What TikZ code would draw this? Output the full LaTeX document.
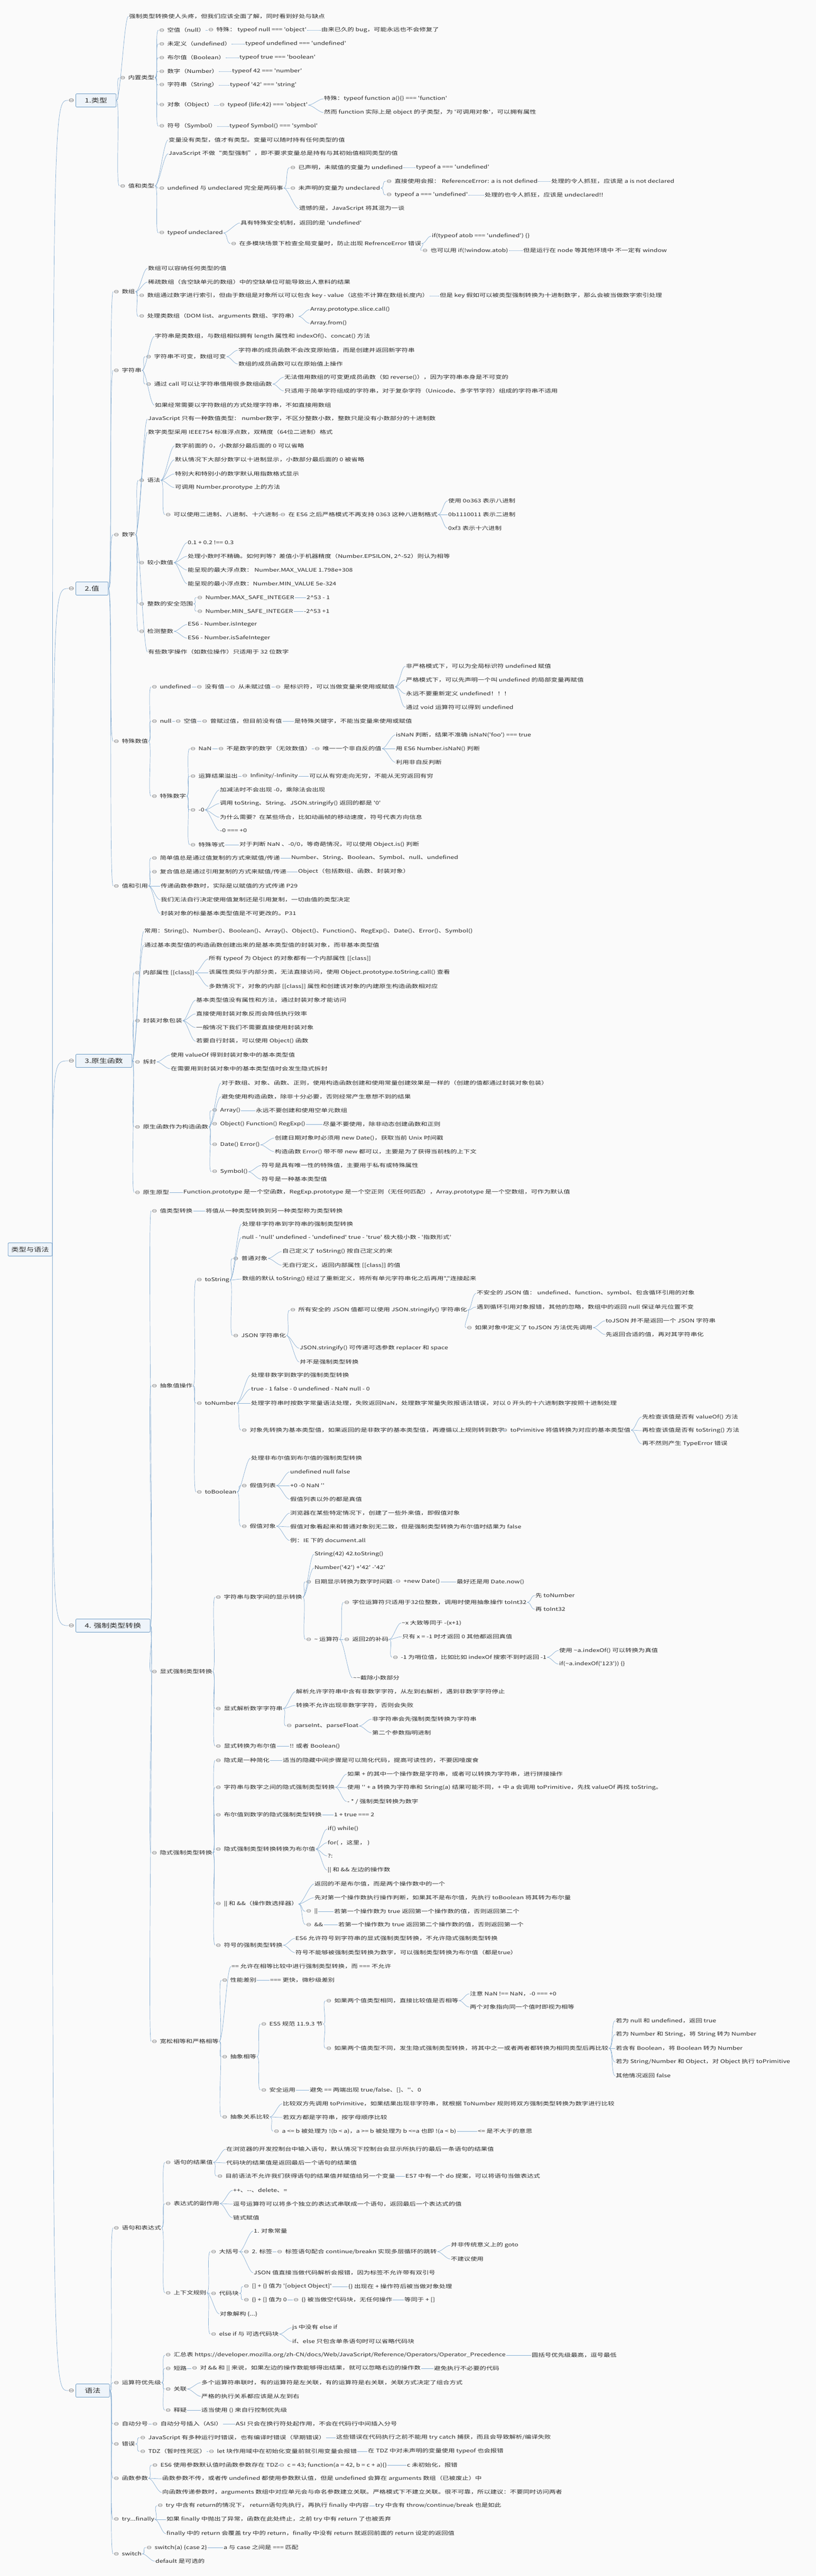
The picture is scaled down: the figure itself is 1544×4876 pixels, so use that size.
\documentclass[tikz,border=0pt]{standalone}
\usepackage{fontspec}
\usepackage{xcolor}
\newfontfamily\zh[FakeStretch=1.3]{Noto Sans CJK SC}
\newfontfamily\symf[FakeStretch=1.3]{DejaVu Sans}
\definecolor{bgc}{HTML}{FAFAFA}
\definecolor{linkc}{HTML}{8AB0D4}
\definecolor{boxc}{HTML}{6E9CC6}
\definecolor{boxfill}{HTML}{EEF4FA}
\definecolor{textc}{HTML}{2B2B2B}
\definecolor{knobc}{HTML}{7A7A7A}
\newcommand\knob{{\color{knobc}\symf ⊖}\hspace{5pt}}
\tikzset{
  leaf/.style={anchor=west,inner xsep=1pt,inner ysep=2pt,text=textc,font=\zh\fontsize{9.5}{11}\selectfont},
  fold/.style={leaf,execute at begin node={\knob}},
  topic/.style={anchor=west,draw=boxc,fill=boxfill,line width=0.8pt,rounded corners=2pt,minimum height=25pt,inner xsep=17pt,inner ysep=0pt,text=textc,font=\zh\fontsize{11.5}{13}\selectfont},
  rootbox/.style={topic,anchor=center,inner xsep=6pt,font=\zh\fontsize{11}{13}\selectfont},
  knobbox/.style={inner sep=0pt,text=knobc,font=\symf\fontsize{10.5}{12}\selectfont},
  link/.style={draw=linkc,line width=0.7pt,to path={.. controls +(8,0) and +(-8,0) .. (\tikztotarget)}}
}
\begin{document}
\begin{tikzpicture}[x=1pt,y=-1pt]
\fill[bgc] (0,0) rectangle (1544,4876);
\useasboundingbox (0,0) rectangle (1544,4876);
%------------------------------
% root and the five topics
%______________________________
\node[rootbox] (root) at (57,2365) {类型与语法};
\node[knobbox] (k1) at (135,190) {⊖};
\node[knobbox] (k2) at (135,1114) {⊖};
\node[knobbox] (k3) at (135,2008) {⊖};
\node[knobbox] (k4) at (135,3077) {⊖};
\node[knobbox] (k5) at (135,4525) {⊖};
\node[topic] (s1) at (143,190) {1.类型};
\node[topic] (s2) at (143,1114) {2.值};
\node[topic] (s3) at (143,2008) {3.原生函数};
\node[topic] (s4) at (143,3077) {4. 强制类型转换};
\node[topic] (s5) at (143,4525) {语法};
\foreach \k in {k1,k2,k3,k4,k5}
  \draw[draw=linkc,line width=0.7pt] (root.east) .. controls (root.east |- \k.west) .. (\k.west);
%------------------------------
% 1.类型
%______________________________
\node[leaf] (a1) at (243,31) {强制类型转换使人头疼，但我们应该全面了解，同时看到好处与缺点};
\node[fold] (a2) at (226,147) {内置类型};
\node[fold] (a21) at (300,57) {空值（null）};
\node[fold] (a211) at (393,57) {特殊： typeof null === 'object'};
\node[leaf] (a2111) at (607,57) {由来已久的 bug，可能永远也不会修复了};
\node[fold] (a22) at (300,83) {未定义（undefined）};
\node[leaf] (a221) at (463,83) {typeof undefined === 'undefined'};
\node[fold] (a23) at (300,109) {布尔值（Boolean）};
\node[leaf] (a231) at (452,109) {typeof true === 'boolean'};
\node[fold] (a24) at (300,135) {数字（Number）};
\node[leaf] (a241) at (438,135) {typeof 42 === 'number'};
\node[fold] (a25) at (300,161) {字符串（String）};
\node[leaf] (a251) at (434,161) {typeof '42' === 'string'};
\node[fold] (a26) at (300,199) {对象（Object）};
\node[fold] (a261) at (414,199) {typeof \{life:42\} === 'object'};
\node[leaf] (a2611) at (612,187) {特殊：typeof function a()\{\} === 'function'};
\node[leaf] (a2612) at (612,213) {然而 function 实际上是 object 的子类型，为 '可调用对象'，可以拥有属性};
\node[fold] (a27) at (300,239) {符号（Symbol）};
\node[leaf] (a271) at (433,239) {typeof Symbol() === 'symbol'};
\node[fold] (a3) at (226,352) {值和类型};
\node[leaf] (a31) at (318,265) {变量没有类型，值才有类型。变量可以随时持有任何类型的值};
\node[leaf] (a32) at (318,291) {JavaScript 不做“类型强制”，即不要求变量总是持有与其初始值相同类型的值};
\node[fold] (a33) at (300,356) {undefined 与 undeclared 完全是两码事};
\node[fold] (a331) at (548,317) {已声明，未赋值的变量为 undefined};
\node[leaf] (a3311) at (786,317) {typeof a === 'undefined'};
\node[fold] (a332) at (548,356) {未声明的变量为 undeclared};
\node[fold] (a3321) at (730,343) {直接使用会报： ReferenceError: a is not defined};
\node[leaf] (a33211) at (1042,343) {处理的令人抓狂，应该是 a is not declared};
\node[fold] (a3322) at (730,369) {typeof a === 'undefined'};
\node[leaf] (a33221) at (916,369) {处理的也令人抓狂，应该是 undeclared!!};
\node[leaf] (a333) at (565,395) {遗憾的是，JavaScript 将其混为一谈};
\node[fold] (a34) at (300,441) {typeof undeclared};
\node[leaf] (a341) at (454,422) {具有特殊安全机制，返回的是 'undefined'};
\node[fold] (a342) at (436,461) {在多模块场景下检查全局变量时，防止出现 RefrenceError 错误};
\node[leaf] (a3421) at (816,447) {if(typeof atob === 'undefined') \{\}};
\node[fold] (a3422) at (798,474) {也可以用 if(!window.atob)};
\node[leaf] (a34221) at (989,474) {但是运行在 node 等其他环境中 不一定有 window};
\foreach \p/\c in {s1/a1,s1/a2,s1/a3,a2/a21,a2/a22,a2/a23,a2/a24,a2/a25,a2/a26,a2/a27,a21/a211,a211/a2111,a22/a221,a23/a231,a24/a241,a25/a251,a26/a261,a261/a2611,a261/a2612,a27/a271,a3/a31,a3/a32,a3/a33,a3/a34,a33/a331,a331/a3311,a33/a332,a332/a3321,a3321/a33211,a332/a3322,a3322/a33221,a33/a333,a34/a341,a34/a342,a342/a3421,a342/a3422,a3422/a34221}
  \draw[link] (\p.east) to (\c.west);
%------------------------------
% 2.值
%______________________________
\node[fold] (b1) at (214,552) {数组};
\node[leaf] (b11) at (279,508) {数组可以容纳任何类型的值};
\node[leaf] (b12) at (279,534) {稀疏数组（含空缺单元的数组）中的空缺单位可能导致出人意料的结果};
\node[fold] (b13) at (262,560) {数组通过数字进行索引，但由于数组是对象所以可以包含 key - value（这些不计算在数组长度内）};
\node[leaf] (b131) at (831,560) {但是 key 假如可以被类型强制转换为十进制数字，那么会被当做数字索引处理};
\node[fold] (b14) at (262,599) {处理类数组（DOM list、arguments 数组、字符串）};
\node[leaf] (b141) at (586,586) {Array.prototype.slice.call()};
\node[leaf] (b142) at (586,612) {Array.from()};
\node[fold] (b2) at (214,701) {字符串};
\node[leaf] (b21) at (292,637) {字符串是类数组，与数组相似拥有 length 属性和 indexOf()、concat() 方法};
\node[fold] (b22) at (275,675) {字符串不可变，数组可变};
\node[leaf] (b221) at (450,663) {字符串的成员函数不会改变原始值，而是创建并返回新字符串};
\node[leaf] (b222) at (450,689) {数组的成员函数可以在原始值上操作};
\node[fold] (b23) at (275,727) {通过 call 可以让字符串借用很多数组函数};
\node[leaf] (b231) at (537,714) {无法借用数组的可变更成员函数（如 reverse()），因为字符串本身是不可变的};
\node[leaf] (b232) at (537,740) {只适用于简单字符组成的字符串，对于复杂字符（Unicode、多字节字符）组成的字符串不适用};
\node[leaf] (b24) at (292,767) {如果经常需要以字符数组的方式处理字符串，不如直接用数组};
\node[fold] (b3) at (214,1012) {数字};
\node[leaf] (b31) at (279,793) {JavaScript 只有一种数值类型： number数字，不区分整数小数，整数只是没有小数部分的十进制数};
\node[leaf] (b32) at (279,818) {数字类型采用 IEEE754 标准浮点数，双精度（64位二进制）格式};
\node[fold] (b33) at (262,909) {语法};
\node[leaf] (b331) at (330,844) {数字前面的 0，小数部分最后面的 0 可以省略};
\node[leaf] (b332) at (330,870) {默认情况下大部分数字以十进制显示，小数部分最后面的 0 被省略};
\node[leaf] (b333) at (330,897) {特别大和特别小的数字默认用指数格式显示};
\node[leaf] (b334) at (330,923) {可调用 Number.prorotype 上的方法};
\node[fold] (b335) at (312,974) {可以使用二进制、八进制、十六进制};
\node[fold] (b3351) at (529,974) {在 ES6 之后严格模式不再支持 0363 这种八进制格式};
\node[leaf] (b33511) at (847,948) {使用 0o363 表示八进制};
\node[leaf] (b33512) at (847,974) {0b1110011 表示二进制};
\node[leaf] (b33513) at (847,1000) {0xf3 表示十六进制};
\node[fold] (b34) at (262,1065) {较小数值};
\node[leaf] (b341) at (354,1027) {0.1 + 0.2 !== 0.3};
\node[leaf] (b342) at (354,1053) {处理小数时不精确。如何判等？差值小于机器精度（Number.EPSILON, 2\textasciicircum-52）则认为相等};
\node[leaf] (b343) at (354,1079) {能呈现的最大浮点数：  Number.MAX\_VALUE 1.798e+308};
\node[leaf] (b344) at (354,1105) {能呈现的最小浮点数：Number.MIN\_VALUE 5e-324};
\node[fold] (b35) at (262,1143) {整数的安全范围};
\node[fold] (b351) at (372,1131) {Number.MAX\_SAFE\_INTEGER};
\node[leaf] (b3511) at (579,1131) {2\textasciicircum 53 - 1};
\node[fold] (b352) at (372,1157) {Number.MIN\_SAFE\_INTEGER};
\node[leaf] (b3521) at (574,1157) {-2\textasciicircum 53 +1};
\node[fold] (b36) at (262,1195) {检测整数};
\node[leaf] (b361) at (354,1182) {ES6 - Number.isInteger};
\node[leaf] (b362) at (354,1208) {ES6 - Number.isSafeInteger};
\node[leaf] (b37) at (279,1234) {有些数字操作（如数位操作）只适用于 32 位数字};
\node[fold] (b4) at (214,1403) {特殊数值};
\node[fold] (b41) at (286,1300) {undefined};
\node[fold] (b411) at (371,1300) {没有值};
\node[fold] (b4111) at (434,1300) {从未赋过值};
\node[fold] (b41111) at (520,1300) {是标识符，可以当做变量来使用或赋值};
\node[leaf] (b4a) at (767,1261) {非严格模式下，可以为全局标识符 undefined 赋值};
\node[leaf] (b4b) at (767,1287) {严格模式下，可以先声明一个叫 undefined 的局部变量再赋值};
\node[leaf] (b4c) at (767,1313) {永远不要重新定义 undefined！！！};
\node[leaf] (b4d) at (767,1339) {通过 void 运算符可以得到 undefined};
\node[fold] (b42) at (286,1365) {null};
\node[fold] (b421) at (331,1365) {空值};
\node[fold] (b4211) at (381,1365) {曾赋过值，但目前没有值};
\node[leaf] (b42111) at (556,1365) {是特殊关键字，不能当变量来使用或赋值};
\node[fold] (b43) at (286,1507) {特殊数字};
\node[fold] (b431) at (359,1417) {NaN};
\node[fold] (b4311) at (412,1417) {不是数字的数字（无效数值）};
\node[fold] (b43111) at (594,1417) {唯一一个非自反的值};
\node[leaf] (b43a) at (748,1391) {isNaN 判断，结果不准确  isNaN('foo') === true};
\node[leaf] (b43b) at (748,1417) {用 ES6 Number.isNaN() 判断};
\node[leaf] (b43c) at (748,1443) {利用非自反判断};
\node[fold] (b432) at (359,1469) {运算结果溢出};
\node[fold] (b4321) at (457,1469) {Infinity/-Infinity};
\node[leaf] (b43211) at (584,1469) {可以从有穷走向无穷，不能从无穷返回有穷};
\node[fold] (b433) at (359,1533) {-0};
\node[leaf] (b433a) at (415,1495) {加减法时不会出现 -0，乘除法会出现};
\node[leaf] (b433b) at (415,1521) {调用 toString、String、JSON.stringify() 返回的都是 '0'};
\node[leaf] (b433c) at (415,1547) {为什么需要？在某些场合，比如动画帧的移动速度，符号代表方向信息};
\node[leaf] (b433d) at (415,1572) {-0 === +0};
\node[fold] (b434) at (359,1599) {特殊等式};
\node[leaf] (b4341) at (452,1599) {对于判断 NaN 、-0/0，等奇葩情况，可以使用 Object.is() 判断};
\node[fold] (b5) at (214,1677) {值和引用};
\node[fold] (b51) at (286,1624) {简单值总是通过值复制的方式来赋值/传递};
\node[leaf] (b511) at (550,1624) {Number、String、Boolean、Symbol、null、undefined};
\node[fold] (b52) at (286,1650) {复合值总是通过引用复制的方式来赋值/传递};
\node[leaf] (b521) at (563,1650) {Object（包括数组、函数、封装对象）};
\node[leaf] (b53) at (303,1677) {传递函数参数时，实际是以赋值的方式传递 P29};
\node[leaf] (b54) at (303,1703) {我们无法自行决定使用值复制还是引用复制，一切由值的类型决定};
\node[leaf] (b55) at (303,1729) {封装对象的标量基本类型值是不可更改的。P31};
\foreach \p/\c in {s2/b1,s2/b2,s2/b3,s2/b4,s2/b5,b1/b11,b1/b12,b1/b13,b13/b131,b1/b14,b14/b141,b14/b142,b2/b21,b2/b22,b22/b221,b22/b222,b2/b23,b23/b231,b23/b232,b2/b24,b3/b31,b3/b32,b3/b33,b33/b331,b33/b332,b33/b333,b33/b334,b33/b335,b335/b3351,b3351/b33511,b3351/b33512,b3351/b33513,b3/b34,b34/b341,b34/b342,b34/b343,b34/b344,b3/b35,b35/b351,b351/b3511,b35/b352,b352/b3521,b3/b36,b36/b361,b36/b362,b3/b37,b4/b41,b41/b411,b411/b4111,b4111/b41111,b41111/b4a,b41111/b4b,b41111/b4c,b41111/b4d,b4/b42,b42/b421,b421/b4211,b4211/b42111,b4/b43,b43/b431,b431/b4311,b4311/b43111,b43111/b43a,b43111/b43b,b43111/b43c,b43/b432,b432/b4321,b4321/b43211,b43/b433,b433/b433a,b433/b433b,b433/b433c,b433/b433d,b43/b434,b434/b4341,b5/b51,b51/b511,b5/b52,b52/b521,b5/b53,b5/b54,b5/b55}
  \draw[link] (\p.east) to (\c.west);
%------------------------------
% 3.原生函数
%______________________________
\node[leaf] (c1) at (272,1763) {常用：String()、Number()、Boolean()、Array()、Object()、Function()、RegExp()、Date()、Error()、Symbol()};
\node[leaf] (c2) at (272,1789) {通过基本类型值的构造函数创建出来的是基本类型值的封装对象，而非基本类型值};
\node[fold] (c3) at (254,1841) {内部属性 [[class]]};
\node[leaf] (c3a) at (394,1815) {所有 typeof 为 Object 的对象都有一个内部属性 [[class]]};
\node[leaf] (c3b) at (394,1841) {该属性类似于内部分类，无法直接访问，使用 Object.prototype.toString.call() 查看};
\node[leaf] (c3c) at (394,1867) {多数情况下，对象的内部 [[class]] 属性和创建该对象的内建原生构造函数相对应};
\node[fold] (c4) at (254,1932) {封装对象包装};
\node[leaf] (c4a) at (370,1893) {基本类型值没有属性和方法，通过封装对象才能访问};
\node[leaf] (c4b) at (370,1919) {直接使用封装对象反而会降低执行效率};
\node[leaf] (c4c) at (370,1945) {一般情况下我们不需要直接使用封装对象};
\node[leaf] (c4d) at (370,1971) {若要自行封装，可以使用 Object() 函数};
\node[fold] (c5) at (254,2010) {拆封};
\node[leaf] (c5a) at (322,1997) {使用 valueOf 得到封装对象中的基本类型值};
\node[leaf] (c5b) at (322,2023) {在需要用到封装对象中的基本类型值时会发生隐式拆封};
\node[fold] (c6) at (254,2133) {原生函数作为构造函数};
\node[leaf] (c6a) at (418,2050) {对于数组、对象、函数、正则，使用构造函数创建和使用常量创建效果是一样的（创建的值都通过封装对象包装）};
\node[leaf] (c6b) at (418,2076) {避免使用构造函数，除非十分必要，否则经常产生意想不到的结果};
\node[fold] (c63) at (400,2102) {Array()};
\node[leaf] (c631) at (483,2102) {永远不要创建和使用空单元数组};
\node[fold] (c64) at (400,2128) {Object() Function() RegExp()};
\node[leaf] (c641) at (610,2128) {尽量不要使用，除非动态创建函数和正则};
\node[fold] (c65) at (400,2167) {Date() Error()};
\node[leaf] (c651) at (519,2154) {创建日期对象时必须用 new Date()，获取当前 Unix 时间戳};
\node[leaf] (c652) at (519,2180) {构造函数 Error() 带不带 new 都可以，主要是为了获得当前栈的上下文};
\node[fold] (c66) at (400,2218) {Symbol()};
\node[leaf] (c661) at (494,2206) {符号是具有唯一性的特殊值，主要用于私有或特殊属性};
\node[leaf] (c662) at (494,2232) {符号是一种基本类型值};
\node[fold] (c7) at (254,2257) {原生原型};
\node[leaf] (c71) at (346,2257) {Function.prototype 是一个空函数，RegExp.prototype 是一个空正则（无任何匹配），Array.prototype 是一个空数组，可作为默认值};
\foreach \p/\c in {s3/c1,s3/c2,s3/c3,s3/c4,s3/c5,s3/c6,s3/c7,c3/c3a,c3/c3b,c3/c3c,c4/c4a,c4/c4b,c4/c4c,c4/c4d,c5/c5a,c5/c5b,c6/c6a,c6/c6b,c6/c63,c63/c631,c6/c64,c64/c641,c6/c65,c65/c651,c65/c652,c6/c66,c66/c661,c66/c662,c7/c71}
  \draw[link] (\p.east) to (\c.west);
%------------------------------
% 4. 强制类型转换
%______________________________
\node[fold] (d1) at (286,2292) {值类型转换};
\node[leaf] (d11) at (388,2292) {将值从一种类型转换到另一种类型称为类型转换};
\node[fold] (d2) at (286,2623) {抽象值操作};
\node[fold] (d21) at (371,2423) {toString};
\node[leaf] (d21a) at (457,2317) {处理非字符串到字符串的强制类型转换};
\node[leaf] (d21b) at (457,2342) {null - 'null'  undefined - 'undefined'  true - 'true' 极大极小数 - '指数形式'};
\node[fold] (d213) at (440,2382) {普通对象};
\node[leaf] (d213a) at (533,2369) {自己定义了 toString() 按自己定义的来};
\node[leaf] (d213b) at (533,2395) {无自行定义，返回内部属性 [[class]] 的值};
\node[leaf] (d21d) at (457,2421) {数组的默认 toString() 经过了重新定义，将所有单元字符串化之后再用","连接起来};
\node[fold] (d215) at (440,2528) {JSON 字符串化};
\node[fold] (d2151) at (548,2480) {所有安全的 JSON 值都可以使用 JSON.stringify() 字符串化};
\node[leaf] (d2151a) at (901,2448) {不安全的 JSON 值： undefined、function、symbol、包含循环引用的对象};
\node[leaf] (d2151b) at (901,2474) {遇到循环引用对象报错，其他的忽略，数组中的返回 null 保证单元位置不变};
\node[fold] (d21513) at (882,2513) {如果对象中定义了 toJSON 方法优先调用};
\node[leaf] (d21513a) at (1145,2500) {toJSON 并不是返回一个 JSON 字符串};
\node[leaf] (d21513b) at (1145,2526) {先返回合适的值，再对其字符串化};
\node[leaf] (d215b) at (566,2552) {JSON.stringify() 可传递可选参数 replacer 和 space};
\node[leaf] (d215c) at (566,2578) {并不是强制类型转换};
\node[fold] (d22) at (371,2656) {toNumber};
\node[leaf] (d22a) at (474,2603) {处理非数字到数字的强制类型转换};
\node[leaf] (d22b) at (474,2629) {true - 1 false - 0 undefined - NaN null - 0};
\node[leaf] (d22c) at (474,2656) {处理字符串时按数字常量语法处理，失败返回NaN，处理数字常量失败报语法错误，对以 0 开头的十六进制数字按照十进制处理};
\node[fold] (d224) at (456,2707) {对象先转换为基本类型值，如果返回的是非数字的基本类型值，再遵循以上规则转到数字};
\node[fold] (d2241) at (949,2707) {toPrimitive 将值转换为对应的基本类型值};
\node[leaf] (d2241a) at (1214,2682) {先检查该值是否有 valueOf() 方法};
\node[leaf] (d2241b) at (1214,2708) {再检查该值是否有 toString() 方法};
\node[leaf] (d2241c) at (1214,2733) {再不然则产生 TypeError 错误};
\node[fold] (d23) at (371,2824) {toBoolean};
\node[leaf] (d23a) at (474,2760) {处理非布尔值到布尔值的强制类型转换};
\node[fold] (d232) at (456,2812) {假值列表};
\node[leaf] (d232a) at (548,2786) {undefined null false};
\node[leaf] (d232b) at (548,2812) {+0 -0 NaN ''};
\node[leaf] (d232c) at (548,2838) {假值列表以外的都是真值};
\node[fold] (d233) at (456,2889) {假值对象};
\node[leaf] (d233a) at (548,2864) {浏览器在某些特定情况下，创建了一些外来值，即假值对象};
\node[leaf] (d233b) at (548,2890) {假值对象看起来和普通对象别无二致，但是强制类型转换为布尔值时结果为 false};
\node[leaf] (d233c) at (548,2916) {例：IE 下的 document.all};
\node[fold] (d3) at (286,3164) {显式强制类型转换};
\node[fold] (d31) at (407,3023) {字符串与数字间的显示转换};
\node[leaf] (d31a) at (594,2942) {String(42) 42.toString()};
\node[leaf] (d31b) at (594,2968) {Number('42')  +'42' -'42'};
\node[fold] (d313) at (578,2994) {日期显示转换为数字时间戳};
\node[fold] (d3131) at (747,2994) {+new Date()};
\node[leaf] (d31311) at (863,2994) {最好还是用 Date.now()};
\node[fold] (d314) at (578,3103) {\textasciitilde{} 运算符};
\node[fold] (d3141) at (650,3033) {字位运算符只适用于32位整数，调用时使用抽象操作 toInt32};
\node[leaf] (d3141a) at (1012,3020) {先 toNumber};
\node[leaf] (d3141b) at (1012,3046) {再 toInt32};
\node[fold] (d3142) at (650,3103) {返回2的补码};
\node[leaf] (d3142a) at (759,3072) {\textasciitilde x 大致等同于 -(x+1)};
\node[leaf] (d3142b) at (760,3098) {只有 x = -1 时才返回 0 其他都返回真值};
\node[fold] (d31423) at (742,3137) {-1 为哨位值，比如比如 indexOf 搜索不到时返回 -1};
\node[leaf] (d31423a) at (1057,3124) {使用 \textasciitilde a.indexOf() 可以转换为真值};
\node[leaf] (d31423b) at (1057,3150) {if(\textasciitilde a.indexOf('123')) \{\}};
\node[leaf] (d314c) at (667,3176) {\textasciitilde\textasciitilde 截除小数部分};
\node[fold] (d32) at (407,3234) {显式解析数字字符串};
\node[leaf] (d32a) at (559,3202) {解析允许字符串中含有非数字字符，从左到右解析，遇到非数字字符停止};
\node[leaf] (d32b) at (559,3228) {转换不允许出现非数字字符，否则会失败};
\node[fold] (d323) at (541,3267) {parseInt、parseFloat};
\node[leaf] (d323a) at (703,3254) {非字符串会先强制类型转换为字符串};
\node[leaf] (d323b) at (703,3280) {第二个参数指明进制};
\node[fold] (d33) at (407,3305) {显式转换为布尔值};
\node[leaf] (d331) at (547,3305) {!! 或者 Boolean()};
\node[fold] (d4) at (286,3507) {隐式强制类型转换};
\node[fold] (d41) at (407,3332) {隐式是一种简化};
\node[leaf] (d411) at (534,3332) {适当的隐藏中间步骤是可以简化代码，提高可读性的，不要因噎废食};
\node[fold] (d42) at (407,3383) {字符串与数字之间的隐式强制类型转换};
\node[leaf] (d42a) at (656,3358) {如果 + 的其中一个操作数是字符串，或者可以转换为字符串，进行拼接操作};
\node[leaf] (d42b) at (656,3384) {使用 '' + a 转换为字符串和 String(a) 结果可能不同，+ 中 a 会调用 toPrimitive，先找 valueOf 再找 toString。};
\node[leaf] (d42c) at (656,3410) {- * / 强制类型转换为数字};
\node[fold] (d43) at (407,3435) {布尔值到数字的隐式强制类型转换};
\node[leaf] (d431) at (631,3435) {1 + true === 2};
\node[fold] (d44) at (407,3500) {隐式强制类型转换转换为布尔值};
\node[leaf] (d44a) at (619,3462) {if()  while()};
\node[leaf] (d44b) at (619,3488) {for(  ，这里，  )};
\node[leaf] (d44c) at (619,3513) {?:};
\node[leaf] (d44d) at (619,3540) {|| 和 \&\& 左边的操作数};
\node[fold] (d45) at (407,3604) {|| 和 \&\&（操作数选择器）};
\node[leaf] (d45a) at (594,3566) {返回的不是布尔值，而是两个操作数中的一个};
\node[leaf] (d45b) at (594,3592) {先对第一个操作数执行操作判断，如果其不是布尔值，先执行 toBoolean 将其转为布尔量};
\node[fold] (d453) at (578,3618) {||};
\node[leaf] (d4531) at (631,3618) {若第一个操作数为 true 返回第一个操作数的值，否则返回第二个};
\node[fold] (d454) at (578,3643) {\&\&};
\node[leaf] (d4541) at (639,3643) {若第一个操作数为 true 返回第二个操作数的值，否则返回第一个};
\node[fold] (d46) at (407,3682) {符号的强制类型转换};
\node[leaf] (d46a) at (558,3669) {ES6 允许符号到字符串的显式强制类型转换，不允许隐式强制类型转换};
\node[leaf] (d46b) at (558,3696) {符号不能够被强制类型转换为数字，可以强制类型转换为布尔值（都是true）};
\node[fold] (d5) at (286,3864) {宽松相等和严格相等};
\node[leaf] (d5a) at (437,3722) {== 允许在相等比较中进行强制类型转换，而 === 不允许};
\node[fold] (d52) at (419,3748) {性能差别};
\node[leaf] (d521) at (510,3748) {=== 更快，微秒级差别};
\node[fold] (d53) at (419,3893) {抽象相等};
\node[fold] (d531) at (493,3831) {ES5 规范 11.9.3 节};
\node[fold] (d5311) at (616,3787) {如果两个值类型相同，直接比较值是否相等};
\node[leaf] (d5311a) at (888,3774) {注意 NaN !== NaN，-0 === +0};
\node[leaf] (d5311b) at (888,3799) {两个对象指向同一个值时即视为相等};
\node[fold] (d5312) at (616,3877) {如果两个值类型不同，发生隐式强制类型转换，将其中之一或者两者都转换为相同类型后再比较};
\node[leaf] (d5312a) at (1164,3825) {若为 null 和 undefined，返回 true};
\node[leaf] (d5312b) at (1164,3851) {若为 Number 和 String，将 String 转为 Number};
\node[leaf] (d5312c) at (1164,3877) {若含有 Boolean，将 Boolean 转为 Number};
\node[leaf] (d5312d) at (1164,3903) {若为 String/Number 和 Object，对 Object 执行 toPrimitive};
\node[leaf] (d5312e) at (1164,3929) {其他情况返回 false};
\node[fold] (d532) at (493,3956) {安全运用};
\node[leaf] (d5321) at (585,3956) {避免 == 两端出现 true/false、[]、''、0};
\node[fold] (d54) at (419,4007) {抽象关系比较};
\node[leaf] (d54a) at (534,3982) {比较双方先调用 toPrimitive，如果结果出现非字符串，就根据 ToNumber 规则将双方强制类型转换为数字进行比较};
\node[leaf] (d54b) at (534,4008) {若双方都是字符串，按字母顺序比较};
\node[fold] (d543) at (517,4034) {a <= b 被处理为 !(b < a)，a >= b 被处理为 b <=a 也即 !(a < b)};
\node[leaf] (d5431) at (903,4034) {<= 是不大于的意思};
\foreach \p/\c in {s4/d1,s4/d2,s4/d3,s4/d4,s4/d5,d1/d11,d2/d21,d2/d22,d2/d23,d21/d21a,d21/d21b,d21/d213,d213/d213a,d213/d213b,d21/d21d,d21/d215,d215/d2151,d2151/d2151a,d2151/d2151b,d2151/d21513,d21513/d21513a,d21513/d21513b,d215/d215b,d215/d215c,d22/d22a,d22/d22b,d22/d22c,d22/d224,d224/d2241,d2241/d2241a,d2241/d2241b,d2241/d2241c,d23/d23a,d23/d232,d232/d232a,d232/d232b,d232/d232c,d23/d233,d233/d233a,d233/d233b,d233/d233c}
  \draw[link] (\p.east) to (\c.west);
\foreach \p/\c in {d3/d31,d3/d32,d3/d33,d31/d31a,d31/d31b,d31/d313,d313/d3131,d3131/d31311,d31/d314,d314/d3141,d3141/d3141a,d3141/d3141b,d314/d3142,d3142/d3142a,d3142/d3142b,d3142/d31423,d31423/d31423a,d31423/d31423b,d314/d314c,d32/d32a,d32/d32b,d32/d323,d323/d323a,d323/d323b,d33/d331,d4/d41,d4/d42,d4/d43,d4/d44,d4/d45,d4/d46,d41/d411,d42/d42a,d42/d42b,d42/d42c,d43/d431,d44/d44a,d44/d44b,d44/d44c,d44/d44d,d45/d45a,d45/d45b,d45/d453,d453/d4531,d45/d454,d454/d4541,d46/d46a,d46/d46b}
  \draw[link] (\p.east) to (\c.west);
\foreach \p/\c in {d5/d5a,d5/d52,d52/d521,d5/d53,d53/d531,d531/d5311,d5311/d5311a,d5311/d5311b,d531/d5312,d5312/d5312a,d5312/d5312b,d5312/d5312c,d5312/d5312d,d5312/d5312e,d53/d532,d532/d5321,d5/d54,d54/d54a,d54/d54b,d54/d543,d543/d5431}
  \draw[link] (\p.east) to (\c.west);
%------------------------------
% 语法
%______________________________
\node[fold] (e1) at (214,4217) {语句和表达式};
\node[fold] (e11) at (312,4093) {语句的结果值};
\node[leaf] (e11a) at (427,4068) {在浏览器的开发控制台中输入语句，默认情况下控制台会显示所执行的最后一条语句的结果值};
\node[leaf] (e11b) at (427,4094) {代码块的结果值是返回最后一个语句的结果值};
\node[fold] (e113) at (410,4119) {目前语法不允许我们获得语句的结果值并赋值给另一个变量};
\node[leaf] (e1131) at (766,4119) {ES7 中有一个 do 提案，可以将语句当做表达式};
\node[fold] (e12) at (312,4171) {表达式的副作用};
\node[leaf] (e12a) at (440,4146) {++、--、delete、=};
\node[leaf] (e12b) at (440,4172) {逗号运算符可以将多个独立的表达式串联成一个语句，返回最后一个表达式的值};
\node[leaf] (e12c) at (440,4198) {链式赋值};
\node[fold] (e13) at (312,4340) {上下文规则};
\node[fold] (e131) at (398,4262) {大括号};
\node[leaf] (e131a) at (479,4223) {1. 对象常量};
\node[fold] (e1312) at (460,4262) {2. 标签};
\node[fold] (e13121) at (523,4262) {标签语句配合 continue/breakn 实现多层循环的跳转};
\node[leaf] (e13121a) at (852,4250) {并非传统意义上的 goto};
\node[leaf] (e13121b) at (852,4276) {不建议使用};
\node[leaf] (e131c) at (479,4302) {JSON 值直接当做代码解析会报错，因为标签不允许带有双引号};
\node[fold] (e132) at (398,4341) {代码块};
\node[fold] (e1321) at (460,4328) {[] + \{\} 值为 '[object Object]'};
\node[leaf] (e13211) at (658,4328) {\{\} 出现在 + 操作符后被当做对象处理};
\node[fold] (e1322) at (460,4353) {\{\} + [] 值为 0};
\node[fold] (e13221) at (554,4353) {\{\} 被当做空代码块，无任何操作};
\node[leaf] (e132211) at (764,4353) {等同于 + []};
\node[leaf] (e13c) at (415,4380) {对象解构 \{...\}};
\node[fold] (e134) at (398,4418) {else if 与 可选代码块};
\node[leaf] (e134a) at (552,4406) {js 中没有 else if};
\node[leaf] (e134b) at (552,4432) {if、else 只包含单条语句时可以省略代码块};
\node[fold] (e2) at (214,4510) {运算符优先级};
\node[fold] (e21) at (312,4458) {汇总表  https://developer.mozilla.org/zh-CN/docs/Web/JavaScript/Reference/Operators/Operator\_Precedence};
\node[leaf] (e211) at (1005,4458) {圆括号优先级最高，逗号最低};
\node[fold] (e22) at (312,4483) {短路};
\node[fold] (e221) at (362,4483) {对 \&\& 和 || 来说，如果左边的操作数能够得出结果，就可以忽略右边的操作数};
\node[leaf] (e2211) at (820,4483) {避免执行不必要的代码};
\node[fold] (e23) at (312,4522) {关联};
\node[leaf] (e23a) at (380,4510) {多个运算符串联时，有的运算符是左关联，有的运算符是右关联，关联方式决定了组合方式};
\node[leaf] (e23b) at (380,4536) {严格的执行关系都应该是从左到右};
\node[fold] (e24) at (312,4562) {释疑};
\node[leaf] (e241) at (380,4562) {适当使用 () 来自行控制优先级};
\node[fold] (e3) at (214,4588) {自动分号};
\node[fold] (e31) at (287,4588) {自动分号插入（ASI）};
\node[leaf] (e311) at (445,4588) {ASI 只会在换行符处起作用，不会在代码行中间插入分号};
\node[fold] (e4) at (214,4626) {错误};
\node[fold] (e41) at (264,4614) {JavaScript 有多种运行时错误，也有编译时错误（早期错误）};
\node[leaf] (e411) at (635,4614) {这些错误在代码执行之前不能用 try catch 捕获，而且会导致解析/编译失败};
\node[fold] (e42) at (264,4640) {TDZ（暂时性死区）};
\node[fold] (e421) at (394,4640) {let 块作用域中在初始化变量前就引用变量会报错};
\node[leaf] (e4211) at (695,4640) {在 TDZ 中对未声明的变量使用 typeof 也会报错};
\node[fold] (e5) at (214,4691) {函数参数};
\node[fold] (e51) at (287,4666) {ES6 使用参数默认值时函数参数存在 TDZ};
\node[fold] (e511) at (527,4666) {c = 43; function(a = 42, b = c + a)\{\}};
\node[leaf] (e5111) at (769,4666) {c 未初始化，报错};
\node[leaf] (e5b) at (306,4692) {函数参数不传，或者传 undefined 都使用参数默认值，但是 undefined 会算在 arguments 数组（已被废止）中};
\node[leaf] (e5c) at (306,4718) {向函数传递参数时，arguments 数组中对应单元会与命名参数建立关联。严格模式下不建立关联。很不可靠，所以建议：不要同时访问两者};
\node[fold] (e6) at (214,4769) {try...finally};
\node[fold] (e61) at (297,4743) {try 中含有 return的情况下， return语句先执行，再执行 finally 中内容};
\node[leaf] (e611) at (709,4743) {try 中含有 throw/continue/break 也是如此};
\node[leaf] (e6b) at (314,4769) {如果 finally 中抛出了异常，函数在此处终止，之前 try 中有 return 了也被丢弃};
\node[leaf] (e6c) at (314,4796) {finally 中的 return 会覆盖 try 中的 return，finally 中没有 return 就返回前面的 return 设定的返回值};
\node[fold] (e7) at (214,4834) {switch};
\node[fold] (e71) at (276,4822) {switch(a) \{case 2\}};
\node[leaf] (e711) at (422,4822) {a 与 case 之间是 === 匹配};
\node[leaf] (e7b) at (293,4848) {default 是可选的};
\foreach \p/\c in {s5/e1,s5/e2,s5/e3,s5/e4,s5/e5,s5/e6,s5/e7,e1/e11,e1/e12,e1/e13,e11/e11a,e11/e11b,e11/e113,e113/e1131,e12/e12a,e12/e12b,e12/e12c,e13/e131,e13/e132,e13/e13c,e13/e134,e131/e131a,e131/e1312,e1312/e13121,e13121/e13121a,e13121/e13121b,e131/e131c,e132/e1321,e1321/e13211,e132/e1322,e1322/e13221,e13221/e132211,e134/e134a,e134/e134b}
  \draw[link] (\p.east) to (\c.west);
\foreach \p/\c in {e2/e21,e21/e211,e2/e22,e22/e221,e221/e2211,e2/e23,e23/e23a,e23/e23b,e2/e24,e24/e241,e3/e31,e31/e311,e4/e41,e41/e411,e4/e42,e42/e421,e421/e4211,e5/e51,e51/e511,e511/e5111,e5/e5b,e5/e5c,e6/e61,e61/e611,e6/e6b,e6/e6c,e7/e71,e71/e711,e7/e7b}
  \draw[link] (\p.east) to (\c.west);
\end{tikzpicture}
\end{document}
